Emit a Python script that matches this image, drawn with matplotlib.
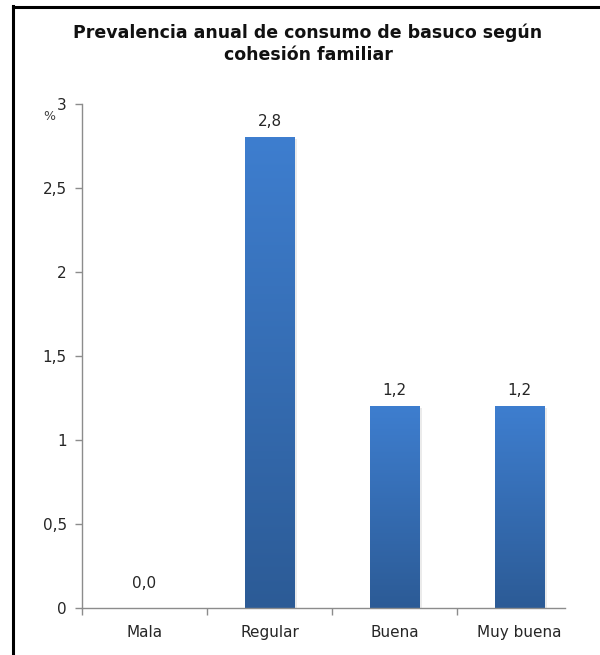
import numpy as np
import matplotlib
matplotlib.use("Agg")
import matplotlib.pyplot as plt
from matplotlib.colors import LinearSegmentedColormap
from matplotlib.lines import Line2D
from matplotlib.patches import Rectangle

categories = ["Mala", "Regular", "Buena", "Muy buena"]
values = [0.0, 2.8, 1.2, 1.2]
yticks = [0, 0.5, 1, 1.5, 2, 2.5, 3]

title = "Prevalencia anual de consumo de basuco según\ncohesión familiar"

W, H = 600, 655
fig = plt.figure(figsize=(W / 100, H / 100), dpi=100)
ax = fig.add_axes([82 / W, (H - 608) / H, 500 / W, 504 / H])

# vertical blue gradient, lighter at the top
cmap = LinearSegmentedColormap.from_list("barblue", ["#2c5b96", "#3e7ecf"])
grad = np.linspace(0, 1, 256).reshape(-1, 1)
bar_w = 0.4

x = np.arange(len(categories))
for xi, v in zip(x, values):
    if v <= 0:
        continue
    # soft shadow on the right
    ax.add_patch(Rectangle((xi - bar_w / 2 + 0.02, 0), bar_w, v - 0.01,
                           facecolor="#000000", alpha=0.08, lw=0, zorder=1))
    ax.imshow(grad, cmap=cmap, origin="lower", aspect="auto",
              extent=(xi - bar_w / 2, xi + bar_w / 2, 0, v), zorder=2)

for xi, v in zip(x, values):
    off = 16 if v > 0 else 25
    ax.annotate(f"{v:.1f}".replace(".", ","), (xi, v), xytext=(0, off * 0.72),
                textcoords="offset points", ha="center", va="center",
                fontsize=11, color="#262626")

ax.set_xlim(-0.5, 3.5)
ax.set_ylim(0, 3)
ax.set_xticks(x)
ax.set_xticklabels(categories, fontsize=11, color="#262626")
ax.set_xticks(np.arange(-0.5, 3.0, 1.0), minor=True)
ax.tick_params(axis="x", which="major", length=0, pad=12)
ax.tick_params(axis="x", which="minor", length=5, color="#8c8c8c", width=1)
ax.set_yticks(yticks)
ax.set_yticklabels([f"{t:g}".replace(".", ",") for t in yticks],
                   fontsize=11, color="#262626")
ax.tick_params(axis="y", length=5, color="#8c8c8c", width=1, pad=6)

for s in ["top", "right"]:
    ax.spines[s].set_visible(False)
for s in ["left", "bottom"]:
    ax.spines[s].set_color("#8c8c8c")
    ax.spines[s].set_linewidth(1)
ax.spines["bottom"].set_bounds(-0.5, 3.36)

fig.text(49 / W, 1 - 117 / H, "%", fontsize=9, color="#404040",
         ha="center", va="center")

fig.text(308 / W, 1 - 44 / H, title, ha="center", va="center",
         fontsize=12.5, fontweight="bold", color="#111111", linespacing=1.3)

# outer frame (only top and left edges fall inside the image)
fig.add_artist(Line2D([12.5 / W, 12.5 / W], [0, 1 - 6 / H],
                      color="black", lw=2.2, transform=fig.transFigure))
fig.add_artist(Line2D([12.5 / W, 1], [1 - 7 / H, 1 - 7 / H],
                      color="black", lw=2.2, transform=fig.transFigure))

fig.savefig("out.png", dpi=100)
